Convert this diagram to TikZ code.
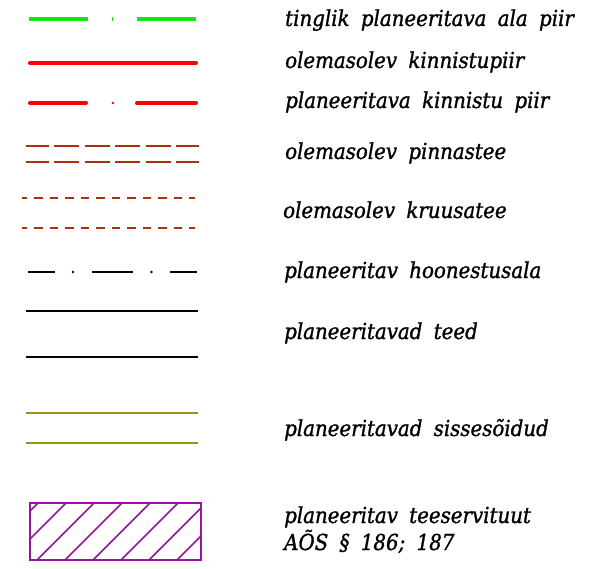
\documentclass[tikz,border=0pt]{standalone}
\usepackage{fontspec}
\setmainfont{DejaVu Serif}[FakeStretch=0.9,WordSpace=1.8,FakeBold=1.2]
\usetikzlibrary{positioning}
\definecolor{leggreen}{RGB}{20,230,20}
\definecolor{legred}{RGB}{255,0,0}
\definecolor{legbrown}{RGB}{170,50,10}
\definecolor{legolive}{RGB}{150,150,20}
\definecolor{legpurple}{RGB}{150,20,160}
\tikzset{
  legtext/.style={anchor=base west,inner sep=0pt,font=\itshape\fontsize{22}{26}\selectfont}
}
\begin{document}
\begin{tikzpicture}[x=1pt,y=-1pt]
\useasboundingbox (0,0) rectangle (615,569);
%tinglik ala piir
\draw[leggreen,line width=4,dash pattern=on 59 off 24 on 0.6 off 24] (29,19)--(198,19);
%kinnistupiir
\draw[legred,line width=4,line cap=round] (30,63)--(196,63);
\draw[legred,line width=4,line cap=round,dash pattern=on 56 off 51 on 60] (30,103)--(196,103);
\fill[legred] (113,103) circle (1.3);
%pinnastee
\foreach \y in {146,162}
{
\draw[legbrown,line width=2.2,dash pattern=on 25 off 5.5,dash phase=2.5] (26,\y)--(199,\y);
}
%kruusatee
\foreach \y in {198,228}
{
\draw[legbrown,line width=2,dash pattern=on 8.5 off 7,dash phase=3.5] (22,\y)--(195,\y);
}
%hoonestusala
\draw[line width=2.8,dash pattern=on 27 off 36.6 on 41.7 off 36.6 on 30] (28,272)--(197,272);
\fill (73,272) circle (1.3) (151.5,272) circle (1.3);
%teed
\foreach \y in {311,357}
{
\draw[line width=1.6] (26,\y)--(198,\y);
}
%sissesoidud
\foreach \y in {413,443}
{
\draw[legolive,line width=1.6] (26,\y)--(198,\y);
}
%teeservituut
\begin{scope}
\clip (30,503) rectangle (201,560);
\foreach \c in {541,569,...,765}
{
\draw[legpurple,line width=1.5] (\c-503,503)--(\c-560,560);
}
\end{scope}
\draw[legpurple,line width=1.8] (30,503) rectangle (201,560);
%labels
\node[legtext] (piir) at (285,26) {tinglik planeeritava ala piir};
\node[legtext] (kinnistu) at (285,68) {olemasolev kinnistupiir};
\node[legtext] (uuspiir) at (285,108) {planeeritava kinnistu piir};
\node[legtext] (pinnas) at (285,159) {olemasolev pinnastee};
\node[legtext] (kruus) at (283,218) {olemasolev kruusatee};
\node[legtext] (hoone) at (284,278) {planeeritav hoonestusala};
\node[legtext] (teed) at (284,339) {planeeritavad teed};
\node[legtext] (sisse) at (284,436) {planeeritavad sissesõidud};
\node[legtext] (servituut) at (284,523) {planeeritav teeservituut};
\node[legtext] (aos) at (284,550) {AÕS § 186; 187};
\end{tikzpicture}
\end{document}
